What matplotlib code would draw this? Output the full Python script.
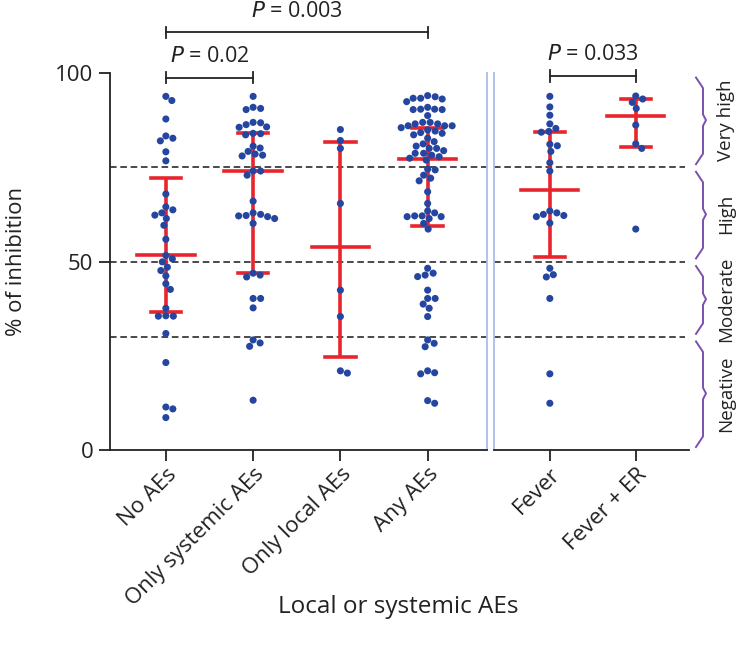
import numpy as np
import matplotlib
matplotlib.use("Agg")
import matplotlib.pyplot as plt
from matplotlib.transforms import blended_transform_factory

plt.rcParams['font.family'] = ['Open Sans', 'DejaVu Sans']

# ---------------- data ----------------
left_labels = ["No AEs", "Only systemic AEs", "Only local AEs", "Any AEs"]
right_labels = ["Fever", "Fever + ER"]

no_aes = [93.8, 92.7, 87.8, 82.7, 83.3, 82.0, 79.1, 76.7, 67.9, 64.5, 62.9, 63.7,
          62.3, 61.4, 59.6, 55.9, 51.6, 50.7, 49.9, 48.5, 47.6, 46.2, 44.1, 42.6,
          37.6, 35.6, 35.5, 35.5, 30.9, 23.2, 11.4, 10.9, 8.6]
only_systemic = [93.8, 90.6, 90.9, 90.3, 86.8, 85.6, 85.7, 86.3, 86.9, 83.9, 83.6,
                 84.0, 80.1, 80.6, 79.2, 78.5, 78.0, 78.2, 74.0, 72.9, 74.0, 66.0,
                 62.9, 61.9, 62.5, 61.4, 62.2, 62.1, 60.1, 46.9, 46.4, 45.9, 40.2,
                 40.2, 37.7, 28.4, 27.5, 29.2, 13.2]
only_local = [85.0, 82.1, 80.0, 65.4, 42.4, 35.4, 20.4, 21.0]
any_aes = [93.3, 94.0, 93.7, 93.1, 92.4, 93.3, 90.9, 90.4, 90.3, 90.3, 90.4, 88.7,
           86.9, 86.9, 86.5, 86.5, 86.0, 86.0, 85.5, 86.0, 84.9, 84.6, 84.2, 84.0,
           83.6, 82.7, 81.8, 81.2, 80.6, 80.0, 80.0, 79.4, 78.7, 78.7, 78.2, 77.8,
           77.4, 76.9, 74.5, 74.3, 72.9, 72.1, 71.4, 68.5, 65.4, 63.4, 62.9, 62.1,
           61.9, 62.1, 61.4, 61.9, 60.1, 58.6, 48.2, 46.9, 46.4, 46.0, 42.4, 40.2,
           40.2, 38.7, 37.6, 35.4, 29.2, 28.3, 27.4, 20.5, 21.0, 20.2, 12.4, 13.1]
fever = [93.8, 91.0, 88.8, 86.5, 84.3, 85.3, 84.5, 80.7, 81.1, 79.2, 76.2, 74.0,
         63.4, 62.5, 62.2, 61.9, 62.9, 60.2, 48.2, 46.5, 45.9, 40.2, 20.2, 12.4]
fever_er = [92.2, 93.1, 93.9, 90.6, 86.2, 81.2, 80.0, 58.6]

left_median = [51.6, 74.0, 53.9, 77.1]
left_q1 = [36.7, 46.9, 24.6, 59.5]
left_q3 = [72.2, 84.0, 81.6, 85.5]
right_median = [68.9, 88.6]
right_q1 = [51.3, 80.3]
right_q3 = [84.4, 93.0]

cutoffs = [30, 50, 75]
level_labels = ["Negative", "Moderate", "High", "Very high"]
level_ranges = [(0, 30), (30, 50), (50, 75), (75, 100)]

p_left = [("P = 0.02", 0, 1, 98.8, 104.3), ("P = 0.003", 0, 3, 110.8, 116.4)]
p_right = [("P = 0.033", 0, 1, 99.2, 104.8)]

# ---------------- style ----------------
W, H = 738, 654
DOT = "#2446a0"
RED = "#e8252d"
PURPLE = "#7a50ae"
LBLUE = "#a9bde6"
DARK = "#222222"

fig = plt.figure(figsize=(W / 100, H / 100), dpi=100)
ax1 = fig.add_axes([110 / W, 204 / H, 377 / W, 377 / H])
ax2 = fig.add_axes([494 / W, 204 / H, 195 / W, 377 / H])

YPX = 377 / 100.0


def swarm(vals, xpx, d=7.2):
    vals = np.asarray(vals, float)
    order = np.argsort(-vals)
    placed = []
    offs = np.zeros(len(vals))
    cands = [0.0]
    for k in range(1, 80):
        cands += [k * 0.5, -k * 0.5]
    for i in order:
        y = vals[i] * YPX
        for c in cands:
            ok = True
            for (px, py) in placed:
                if (c - px) ** 2 + (y - py) ** 2 < d * d:
                    ok = False
                    break
            if ok:
                offs[i] = c
                placed.append((c, y))
                break
    return offs / xpx


def draw_panel(ax, groups, med, q1, q3, xpx, dash_end):
    for i, g in enumerate(groups):
        ax.plot([i, i], [q1[i], q3[i]], color=RED, lw=2.6, zorder=2, solid_capstyle='butt')
        ax.plot([i - 0.33, i + 0.33], [med[i], med[i]], color=RED, lw=2.6, zorder=2)
        for q in (q1[i], q3[i]):
            ax.plot([i - 0.175, i + 0.175], [q, q], color=RED, lw=2.6, zorder=2)
        offs = swarm(g, xpx)
        ax.scatter(i + offs, g, s=26, color=DOT, edgecolor='none', zorder=3)
    for c in cutoffs:
        ax.axhline(c, xmax=dash_end, color="#4a4a4a", lw=1.4, ls=(0, (3.4, 1.9)), zorder=1)


draw_panel(ax1, [no_aes, only_systemic, only_local, any_aes],
           left_median, left_q1, left_q3, 87.3, 1.0)
draw_panel(ax2, [fever, fever_er], right_median, right_q1, right_q3, 86.0, 0.98)

for ax, labels, xl in ((ax1, left_labels, (-0.64, 3.68)), (ax2, right_labels, (-0.65, 1.62))):
    ax.set_xlim(*xl)
    ax.set_ylim(0, 100)
    ax.set_xticks(range(len(labels)))
    ax.set_xticklabels(labels, rotation=45, ha='right', va='top',
                       rotation_mode='anchor', fontsize=16, color=DARK)
    ax.tick_params(axis='x', length=8, width=1.3, color=DARK, pad=2)
    ax.spines['top'].set_visible(False)
    ax.spines['bottom'].set_color(DARK)
    ax.spines['bottom'].set_linewidth(1.3)

ax1.spines['left'].set_color(DARK)
ax1.spines['left'].set_linewidth(1.3)
ax1.spines['right'].set_color(LBLUE)
ax1.spines['right'].set_linewidth(1.3)
ax1.set_yticks([0, 50, 100])
ax1.set_yticklabels(["0", "50", "100"], fontsize=16, color=DARK)
ax1.tick_params(axis='y', length=8, width=1.3, color=DARK, pad=4)

ax2.spines['right'].set_visible(False)
ax2.spines['left'].set_color(LBLUE)
ax2.spines['left'].set_linewidth(1.3)
ax2.set_yticks([])

fig.text(17 / W, 1 - 261 / H, "% of inhibition", rotation=90, ha='center', va='center',
         fontsize=16, color=DARK)

# significance bars
for ax, plist in ((ax1, p_left), (ax2, p_right)):
    for txt, a, b, yb, yt in plist:
        ax.plot([a, b], [yb, yb], color=DARK, lw=1.3, clip_on=False)
        for xx in (a, b):
            ax.plot([xx, xx], [yb - 1.5, yb + 1.5], color=DARK, lw=1.3, clip_on=False)
        ax.text((a + b) / 2, yt, r"$\it{P}$" + txt[1:], ha='center', va='center',
                fontsize=15.5, color=DARK, clip_on=False)

# right-hand brackets
tr = blended_transform_factory(fig.transFigure, ax2.transData)
x0, x1, xt = 696 / W, 703 / W, 706 / W
for lab, (lo, hi) in zip(level_labels, level_ranges):
    lo2, hi2 = lo + 0.8, hi - 1.2
    mid = (lo + hi) / 2
    xs = [x0, x1, x1, xt, x1, x1, x0]
    ys = [hi2, hi2 - 2.8, mid + 1.5, mid, mid - 1.5, lo2 + 2.8, lo2]
    ax2.plot(xs, ys, color=PURPLE, lw=1.4, transform=tr, clip_on=False)
    ax2.text(726 / W, mid, lab, rotation=90, ha='center', va='center',
             fontsize=13.5, color=DARK, transform=tr, clip_on=False)

fig.text(398 / W, 1 - 607 / H, "Local or systemic AEs", ha='center', va='center',
         fontsize=17.5, color=DARK)

fig.savefig("out.png", dpi=100)
